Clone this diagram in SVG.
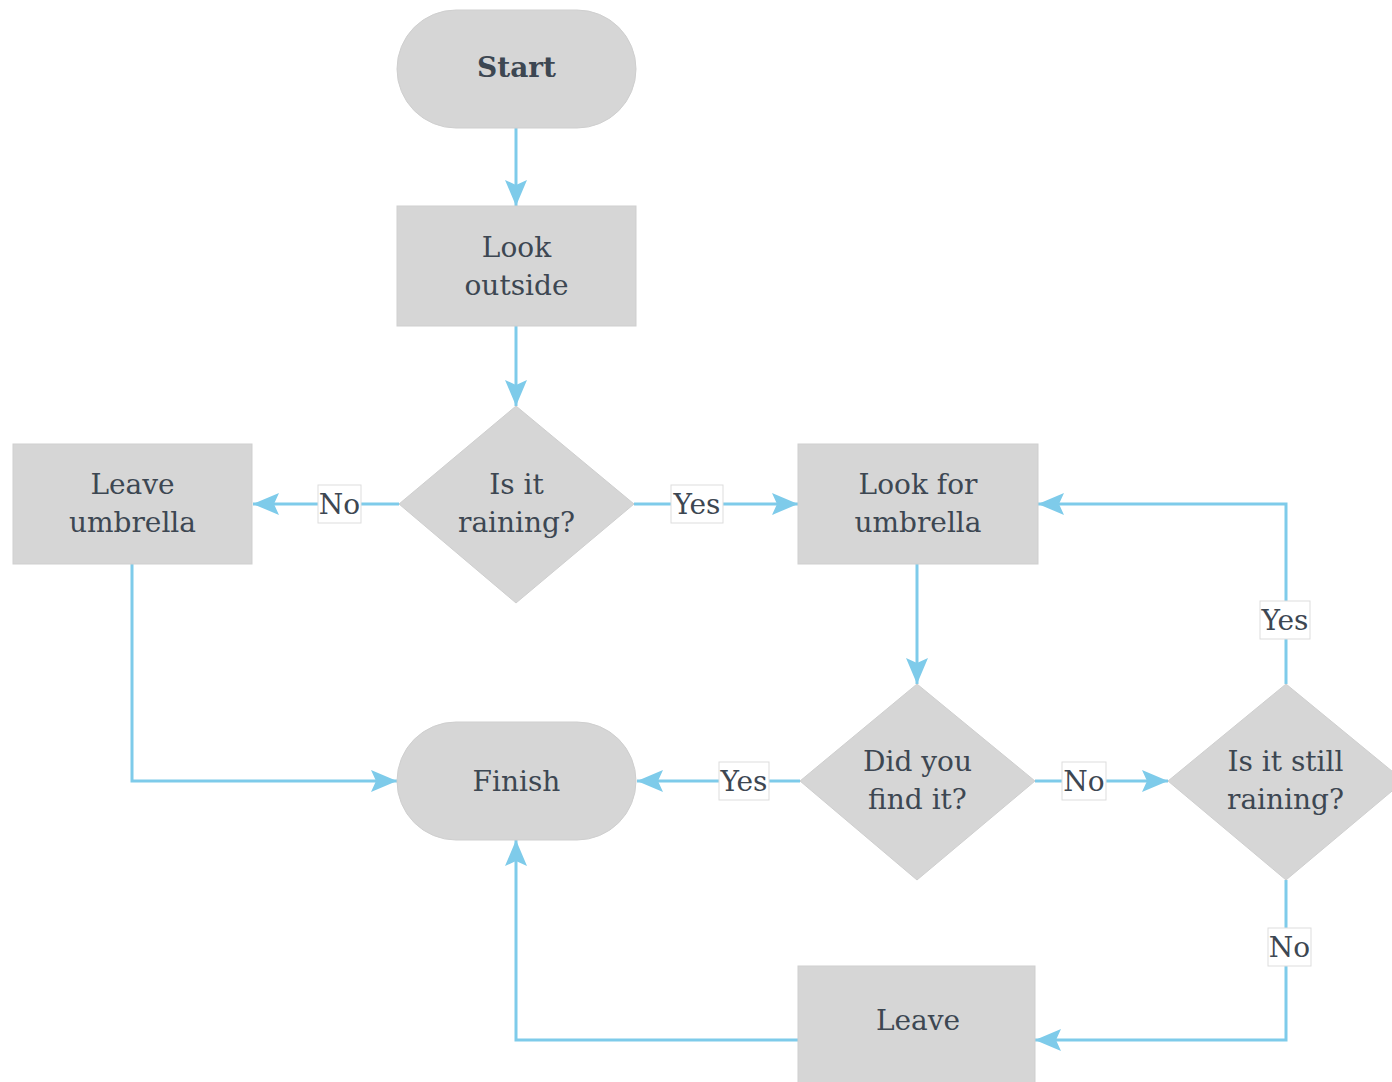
<svg xmlns="http://www.w3.org/2000/svg" width="1392" height="1082" viewBox="0 0 1392 1082">
<defs>
<style>
.shape{fill:#d6d6d6;stroke:#cfcfcf;stroke-width:1}
.t{font-family:"DejaVu Serif","Liberation Serif",serif;font-size:28px;fill:#3d4752;text-anchor:middle}
.b{font-weight:bold}
.edge{fill:none;stroke:#7ecbea;stroke-width:3}
.lbox{fill:#ffffff;stroke:#dddddd;stroke-width:1}
.lt{font-family:"DejaVu Serif","Liberation Serif",serif;font-size:28px;fill:#3d4752;text-anchor:middle}
</style>
<marker id="arr" viewBox="0 0 26 22" refX="26" refY="11" markerWidth="26" markerHeight="22" markerUnits="userSpaceOnUse" orient="auto">
<path d="M0,0 L26,11 L0,22 L5,11 Z" fill="#7ecbea"/>
</marker>
</defs>
<rect width="1392" height="1082" fill="#ffffff"/>
<g id="connectors">
<path class="edge" d="M516,128 L516,206" marker-end="url(#arr)"/>
<path class="edge" d="M516,326 L516,406" marker-end="url(#arr)"/>
<path class="edge" d="M399,504 L253,504" marker-end="url(#arr)"/>
<path class="edge" d="M634,504 L798,504" marker-end="url(#arr)"/>
<path class="edge" d="M917,564 L917,684" marker-end="url(#arr)"/>
<path class="edge" d="M800,781 L637,781" marker-end="url(#arr)"/>
<path class="edge" d="M1035,781 L1168,781" marker-end="url(#arr)"/>
<path class="edge" d="M1286,684 L1286,504 L1038,504" marker-end="url(#arr)"/>
<path class="edge" d="M1286,880 L1286,1040 L1035,1040" marker-end="url(#arr)"/>
<path class="edge" d="M132,564 L132,781 L397,781" marker-end="url(#arr)"/>
<path class="edge" d="M798,1040 L516,1040 L516,840" marker-end="url(#arr)"/>
<g id="labels">
<rect class="lbox" x="318" y="485" width="43" height="38"/>
<text class="lt" x="339.5" y="514">No</text>
<rect class="lbox" x="671" y="485" width="52" height="38"/>
<text class="lt" x="697" y="514">Yes</text>
<rect class="lbox" x="719" y="762" width="50" height="38"/>
<text class="lt" x="744" y="791">Yes</text>
<rect class="lbox" x="1062" y="762" width="44" height="38"/>
<text class="lt" x="1084" y="791">No</text>
<rect class="lbox" x="1260" y="601" width="50" height="38"/>
<text class="lt" x="1285" y="630">Yes</text>
<rect class="lbox" x="1268" y="928" width="43" height="38"/>
<text class="lt" x="1289.5" y="957">No</text>
</g>
</g>
<g id="start">
<rect class="shape" x="397" y="10" width="239" height="118" rx="59" ry="59"/>
<text class="t b" x="516.5" y="77">Start</text>
</g>
<g id="look-outside">
<rect class="shape" x="397" y="206" width="239" height="120"/>
<text class="t" x="516.5" y="257">Look</text>
<text class="t" x="516.5" y="295">outside</text>
</g>
<g id="is-it-raining">
<polygon class="shape" points="516,406 634,504 516,603 399,504"/>
<text class="t" x="516.5" y="494">Is it</text>
<text class="t" x="516.5" y="532">raining?</text>
</g>
<g id="leave-umbrella">
<rect class="shape" x="13" y="444" width="239" height="120"/>
<text class="t" x="132.5" y="494">Leave</text>
<text class="t" x="132.5" y="532">umbrella</text>
</g>
<g id="look-for-umbrella">
<rect class="shape" x="798" y="444" width="240" height="120"/>
<text class="t" x="918" y="494">Look for</text>
<text class="t" x="918" y="532">umbrella</text>
</g>
<g id="did-you-find-it">
<polygon class="shape" points="917,684 1035,781 917,880 800,781"/>
<text class="t" x="917.5" y="771">Did you</text>
<text class="t" x="917.5" y="809">find it?</text>
</g>
<g id="is-it-still-raining">
<polygon class="shape" points="1286,684 1404,781 1286,880 1168,781"/>
<text class="t" x="1285.5" y="771">Is it still</text>
<text class="t" x="1285.5" y="809">raining?</text>
</g>
<g id="finish">
<rect class="shape" x="397" y="722" width="239" height="118" rx="59" ry="59"/>
<text class="t" x="516.5" y="791">Finish</text>
</g>
<g id="leave">
<rect class="shape" x="798" y="966" width="237" height="120"/>
<text class="t" x="918" y="1030">Leave</text>
</g>
</svg>
